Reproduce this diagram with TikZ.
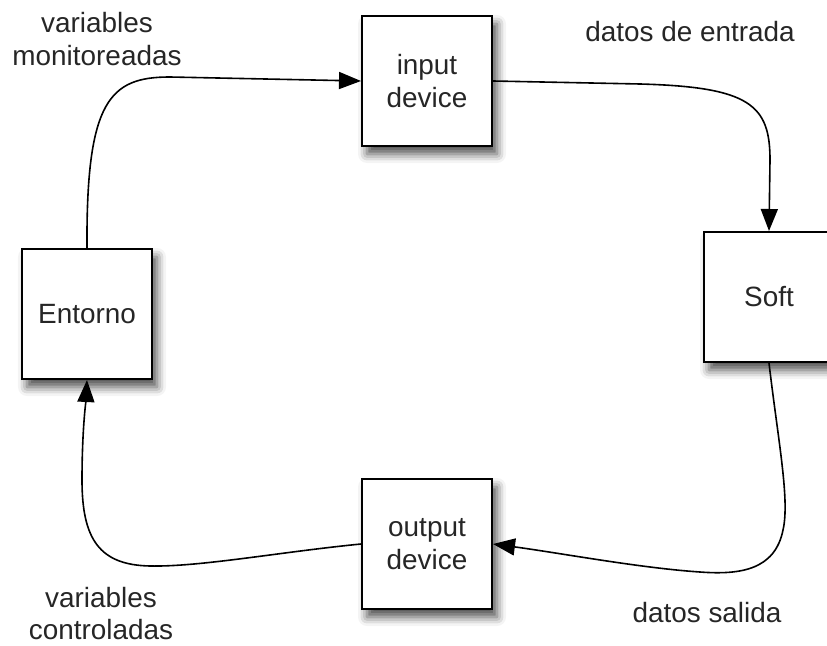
\documentclass[tikz,border=0pt]{standalone}
\usepackage{fontspec}
\setmainfont{Liberation Sans}
\usetikzlibrary{arrows.meta,shadows.blur}
\begin{document}
\begin{tikzpicture}[x=1bp,y=-1bp,
  font=\fontsize{28}{33}\selectfont,
  block/.style={draw=black, line width=2bp, fill=white, minimum width=130bp, minimum height=130bp,
    inner sep=0pt, align=center, text=black!85,
    blur shadow={shadow xshift=5bp, shadow yshift=-8bp, shadow blur radius=9bp, shadow opacity=70}},
  lbl/.style={anchor=base, align=center, text=black!85},
  flow/.style={line width=1.6bp, -{Triangle[length=22bp,width=17bp]}}]
  \useasboundingbox (0,0) rectangle (827,646);

  % boxes
  \node[block] (inp) at (427,81) {input\\device};
  \node[block] (soft) at (769,297) {Soft};
  \node[block] (out) at (427,544) {output\\device};
  \node[block] (ent) at (87,314) {Entorno};

  % labels
  \node[lbl] (l1) at (97,33) {variables};
  \node[lbl] (l2) at (97,66) {monitoreadas};
  \node[lbl] (l3) at (690,42) {datos de entrada};
  \node[lbl] (l4) at (707,622) {datos salida};
  \node[lbl] (l5) at (101,607) {variables};
  \node[lbl] (l6) at (101,639) {controladas};

  % connectors
  \draw[flow] (ent.north) .. controls (86,100) and (110,77) .. (170,77) -- (inp.west);
  \draw[flow] (inp.east) -- (640,84) .. controls (750,87) and (770,105) .. (770,160) -- (soft.north);
  \draw[flow] (soft.south) .. controls (778,440) and (790,500) .. (783,530)
    .. controls (775,570) and (740,575) .. (700,572)
    .. controls (640,568) and (560,553) .. (out.east);
  \draw[flow] (out.west) .. controls (280,552) and (200,567) .. (150,566)
    .. controls (100,565) and (82,540) .. (82,480)
    .. controls (82,430) and (86,400) .. (ent.south);
\end{tikzpicture}
\end{document}
